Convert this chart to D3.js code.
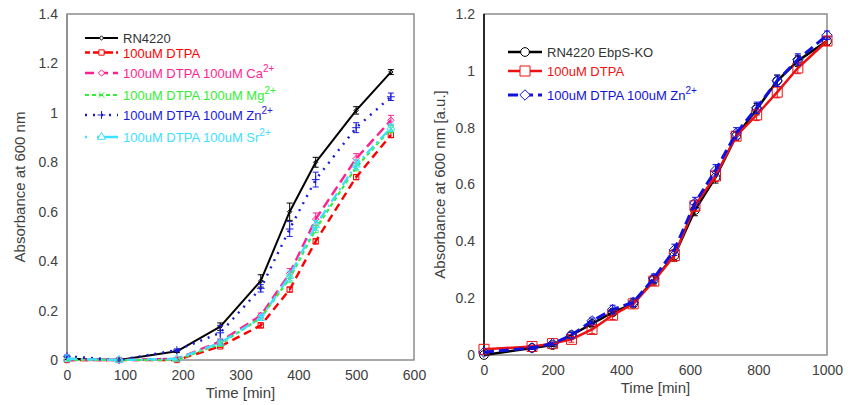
<!DOCTYPE html>
<html>
<head>
<meta charset="utf-8">
<script src="https://cdn.jsdelivr.net/npm/d3@7"></script>
<style>
body { margin: 0; background: #fff; }
svg { display: block; font-family: "Liberation Sans", Arial, sans-serif; }
</style>
</head>
<body>
<svg id="chart" width="850" height="405"></svg>
<script>
// left panel: RN4220 with DTPA and metal ions
const leftTime = [0, 90, 190, 265, 335, 385, 430, 500, 560]
const leftRN4220 = [0.005, 0, 0.035, 0.135, 0.32, 0.6, 0.8, 1.01, 1.165]
const leftRN4220Err = [0, 0, 0.005, 0.015, 0.025, 0.035, 0.02, 0.015, 0.01]
const leftDTPA = [0, 0, 0, 0.055, 0.14, 0.285, 0.48, 0.74, 0.91]
const leftDTPAErr = [0, 0, 0, 0.005, 0.01, 0.01, 0.01, 0.01, 0.01]
const leftCa = [0, 0, 0.005, 0.075, 0.18, 0.35, 0.57, 0.815, 0.97]
const leftCaErr = [0, 0, 0, 0.01, 0.01, 0.02, 0.025, 0.02, 0.02]
const leftMg = [0, 0, 0, 0.065, 0.17, 0.33, 0.53, 0.78, 0.935]
const leftMgErr = [0, 0, 0, 0.01, 0.01, 0.015, 0.015, 0.015, 0.015]
const leftZn = [0.015, 0, 0.04, 0.11, 0.29, 0.53, 0.73, 0.94, 1.065]
const leftZnErr = [0.005, 0, 0.005, 0.03, 0.015, 0.03, 0.03, 0.02, 0.015]
const leftSr = [0.005, 0, 0.005, 0.07, 0.17, 0.34, 0.545, 0.79, 0.94]
const leftSrErr = [0, 0, 0, 0.01, 0.01, 0.02, 0.02, 0.02, 0.015]

const leftXTicks = [0, 100, 200, 300, 400, 500, 600]
const leftYTicks = [0, 0.2, 0.4, 0.6, 0.8, 1, 1.2, 1.4]

// right panel: EbpS-KO
const rightTime = [0, 140, 200, 255, 315, 375, 435, 495, 555, 615, 675, 735, 795, 855, 915, 1000]
const rightKO = [0, 0.025, 0.035, 0.07, 0.11, 0.15, 0.18, 0.265, 0.35, 0.51, 0.625, 0.77, 0.865, 0.965, 1.035, 1.105]
const rightKOErr = [0, 0.005, 0.005, 0.01, 0.01, 0.01, 0.01, 0.015, 0.02, 0.02, 0.02, 0.015, 0.02, 0.02, 0.02, 0.015]
const rightDTPA = [0.02, 0.03, 0.04, 0.055, 0.09, 0.14, 0.18, 0.26, 0.35, 0.525, 0.63, 0.77, 0.845, 0.925, 1.01, 1.105]
const rightDTPAErr = [0, 0.005, 0.005, 0.01, 0.015, 0.015, 0.01, 0.015, 0.02, 0.02, 0.02, 0.015, 0.02, 0.02, 0.02, 0.015]
const rightZn = [0.01, 0.025, 0.04, 0.07, 0.12, 0.16, 0.185, 0.27, 0.37, 0.535, 0.65, 0.78, 0.87, 0.965, 1.04, 1.125]
const rightZnErr = [0, 0.005, 0.005, 0.01, 0.01, 0.015, 0.015, 0.015, 0.02, 0.02, 0.02, 0.02, 0.02, 0.02, 0.02, 0.015]

const rightXTicks = [0, 200, 400, 600, 800, 1000]
const rightYTicks = [0, 0.2, 0.4, 0.6, 0.8, 1, 1.2]

const svg = d3.select('#chart')
const TEXT = '#404040'

function drawPanel(opts) {
    const g = svg.append('g')
    const x = d3.scaleLinear().domain(opts.xDomain).range([opts.left, opts.right])
    const y = d3.scaleLinear().domain(opts.yDomain).range([opts.bottom, opts.top])

    // frame
    g.append('rect')
        .attr('x', opts.left).attr('y', opts.top)
        .attr('width', opts.right - opts.left).attr('height', opts.bottom - opts.top)
        .attr('fill', 'none').attr('stroke', '#8c8c8c').attr('stroke-width', 1.5)
    g.append('line')
        .attr('x1', opts.left).attr('x2', opts.left)
        .attr('y1', opts.top).attr('y2', opts.bottom)
        .attr('stroke', opts.axisColor).attr('stroke-width', 1.5)

    const xAxis = g.append('g')
        .attr('transform', `translate(0,${opts.bottom})`)
        .call(d3.axisBottom(x).tickValues(opts.xTicks).tickSize(0).tickPadding(10).tickFormat(d => d))
    const yAxis = g.append('g')
        .attr('transform', `translate(${opts.left},0)`)
        .call(d3.axisLeft(y).tickValues(opts.yTicks).tickSize(0).tickPadding(9).tickFormat(d => +d.toFixed(1)))
    for (const ax of [xAxis, yAxis]) {
        ax.select('.domain').remove()
        ax.selectAll('text')
            .attr('font-family', '"Liberation Sans", Arial, sans-serif')
            .attr('font-size', 14).attr('fill', TEXT)
    }

    // axis titles
    g.append('text')
        .attr('x', (opts.left + opts.right) / 2).attr('y', opts.bottom + 38)
        .attr('text-anchor', 'middle').attr('font-size', 15).attr('fill', TEXT)
        .text('Time [min]')
    g.append('text')
        .attr('transform', `translate(${opts.yTitleX},${(opts.top + opts.bottom) / 2}) rotate(-90)`)
        .attr('text-anchor', 'middle').attr('font-size', 15).attr('fill', TEXT)
        .text(opts.yTitle)

    const line = d3.line().x(d => x(d.t)).y(d => y(d.v))

    opts.series.forEach(s => {
        const pts = opts.time.map((t, i) => ({ t, v: s.values[i], e: s.err[i] }))
        const sg = g.append('g')
        sg.append('path')
            .datum(pts)
            .attr('d', line)
            .attr('fill', 'none')
            .attr('stroke', s.color)
            .attr('stroke-width', s.width)
            .attr('stroke-dasharray', s.dash)
            .attr('stroke-linejoin', 'round')

        // error bars
        const eb = sg.selectAll('.err').data(pts.filter(d => d.e > 0)).join('g')
            .attr('stroke', s.errColor || s.color).attr('stroke-width', 1)
        eb.append('line')
            .attr('x1', d => x(d.t)).attr('x2', d => x(d.t))
            .attr('y1', d => y(d.v - d.e)).attr('y2', d => y(d.v + d.e))
        eb.append('line')
            .attr('x1', d => x(d.t) - 3).attr('x2', d => x(d.t) + 3)
            .attr('y1', d => y(d.v - d.e)).attr('y2', d => y(d.v - d.e))
        eb.append('line')
            .attr('x1', d => x(d.t) - 3).attr('x2', d => x(d.t) + 3)
            .attr('y1', d => y(d.v + d.e)).attr('y2', d => y(d.v + d.e))

        const sym = d3.symbol().type(s.symbol).size(s.size)
        sg.selectAll('.mk').data(pts).join('path')
            .attr('transform', d => `translate(${x(d.t)},${y(d.v)})`)
            .attr('d', sym)
            .attr('fill', s.fill || 'none')
            .attr('stroke', s.color)
            .attr('stroke-width', 1)
    })

    // legend
    const lg = g.append('g')
    opts.series.forEach((s, i) => {
        const ly = opts.legendY[i]
        const [x0, x1] = opts.legendLine
        lg.append('line')
            .attr('x1', x0).attr('x2', x1).attr('y1', ly).attr('y2', ly)
            .attr('stroke', s.color).attr('stroke-width', s.width)
            .attr('stroke-dasharray', s.legendDash || s.dash)
        lg.append('path')
            .attr('transform', `translate(${(x0 + x1) / 2},${ly})`)
            .attr('d', d3.symbol().type(s.symbol).size(s.size))
            .attr('fill', '#fff')
            .attr('stroke', s.color).attr('stroke-width', 1)
        const t = lg.append('text')
            .attr('x', x1 + 5).attr('y', ly + 5)
            .attr('font-size', 13).attr('fill', s.textColor || s.color)
        t.append('tspan').text(s.name)
        if (s.sup) {
            t.append('tspan').attr('dy', -6).attr('font-size', 10).text(s.sup)
        }
    })
}

drawPanel({
    left: 67, right: 414, top: 14, bottom: 360,
    xDomain: [0, 600], yDomain: [0, 1.4],
    xTicks: leftXTicks, yTicks: leftYTicks,
    axisColor: '#8c8c8c',
    yTitle: 'Absorbance at 600 nm', yTitleX: 25,
    time: leftTime,
    legendLine: [85, 118],
    legendY: [38, 52.5, 73, 95, 115, 137],
    series: [
        { name: 'RN4220', values: leftRN4220, err: leftRN4220Err, color: '#000', textColor: '#333', width: 2, dash: null, symbol: d3.symbolDiamond2, size: 12 },
        { name: '100uM DTPA', values: leftDTPA, err: leftDTPAErr, color: '#ff0000', width: 2.4, dash: '8,5', legendDash: '5,3,20,3', symbol: d3.symbolSquare, size: 28 },
        { name: '100uM DTPA 100uM Ca', sup: '2+', values: leftCa, err: leftCaErr, color: '#ff1f8f', width: 2.4, dash: '10,5', legendDash: '9,5', symbol: d3.symbolDiamond2, size: 26 },
        { name: '100uM DTPA 100uM Mg', sup: '2+', values: leftMg, err: leftMgErr, color: '#33ee33', width: 2.2, dash: '4,3', symbol: d3.symbolTimes, size: 22 },
        { name: '100uM DTPA 100uM Zn', sup: '2+', values: leftZn, err: leftZnErr, color: '#1a1add', width: 2.4, dash: '2,6', symbol: d3.symbolPlus, size: 22 },
        { name: '100uM DTPA 100uM Sr', sup: '2+', values: leftSr, err: leftSrErr, color: '#3de0ff', width: 2.4, dash: '10,4,2,4', legendDash: '2,10,22', symbol: d3.symbolTriangle, size: 28 }
    ]
})

drawPanel({
    left: 484, right: 827, top: 14, bottom: 355,
    xDomain: [0, 1000], yDomain: [0, 1.2],
    xTicks: rightXTicks, yTicks: rightYTicks,
    axisColor: '#000',
    yTitle: 'Absorbance at 600 nm [a.u.]', yTitleX: 445,
    time: rightTime,
    legendLine: [508, 542],
    legendY: [52, 71, 95],
    series: [
        { name: 'RN4220 EbpS-KO', values: rightKO, err: rightKOErr, color: '#000', textColor: '#333', width: 2.5, dash: null, symbol: d3.symbolCircle, size: 60 },
        { name: '100uM DTPA', values: rightDTPA, err: rightDTPAErr, color: '#ee1111', width: 2.5, dash: null, symbol: d3.symbolSquare, size: 100 },
        { name: '100uM DTPA 100uM Zn', sup: '2+', values: rightZn, err: rightZnErr, color: '#1111dd', width: 3, dash: '10,5', symbol: d3.symbolDiamond2, size: 70 }
    ]
})
</script>
</body>
</html>
